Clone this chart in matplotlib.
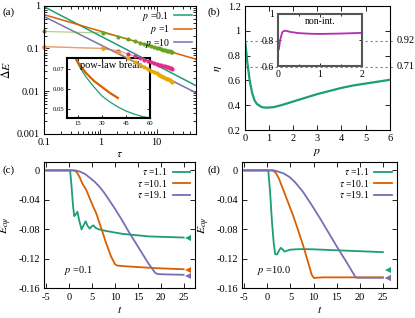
import matplotlib
matplotlib.use('Agg')
import matplotlib.pyplot as plt
from matplotlib.ticker import FuncFormatter, FixedLocator, LogLocator, NullFormatter, MultipleLocator

plt.rcParams['font.family'] = ['Liberation Serif', 'DejaVu Serif']
plt.rcParams['mathtext.fontset'] = 'stix'
plt.rcParams['axes.unicode_minus'] = False
plt.rcParams['font.size'] = 7.5
plt.rcParams['axes.linewidth'] = 0.8

green = '#1b9e77'
orange = '#d95f02'
purple = '#7570b3'
pink = '#e7298a'
lgreen = '#66a61e'
yellow = '#e6ab02'
magenta = '#b52bb5'

# (a) power law fits
tau_fit = [0.1, 50]
dE_p01 = [0.95, 0.0135]
dE_p1 = [0.62, 0.056]
dE_p10 = [0.56, 0.0092]

# (a) data points
tau_pts = [0.1, 1.1, 2.1, 3.1, 4.1, 5.1, 6.1, 7.1, 8.1, 9.1, 10.1,
           11.1, 12.1, 13.1, 14.1, 15.1, 16.1, 17.1, 18.1, 19.1]
dE_green = [0.25, 0.23, 0.19, 0.165, 0.148, 0.136, 0.127, 0.119, 0.113, 0.108, 0.104,
            0.100, 0.097, 0.094, 0.091, 0.089, 0.087, 0.085, 0.083, 0.082]
dE_pink = [0.11, 0.10, 0.088, 0.074, 0.066, 0.060, 0.055, 0.051, 0.048, 0.046, 0.044,
           0.042, 0.0405, 0.039, 0.038, 0.037, 0.036, 0.0352, 0.0345, 0.0338]
dE_yellow = [0.11, 0.10, 0.083, 0.060, 0.049, 0.042, 0.037, 0.033, 0.030, 0.028, 0.026,
             0.024, 0.0228, 0.0215, 0.0205, 0.0196, 0.0188, 0.018, 0.0174, 0.0168]

# (a) inset
tau_in_g = [13, 16, 20, 25, 30, 35, 40, 45, 50, 55, 60]
dE_in_g = [0.076, 0.071, 0.066, 0.061, 0.0565, 0.0535, 0.051, 0.049, 0.0475, 0.0463, 0.0455]
tau_in_o = [13, 16, 20, 25, 30, 35, 40]
dE_in_o = [0.076, 0.072, 0.068, 0.064, 0.061, 0.058, 0.0555]

# (b) efficiency
p_b = [0.0, 0.05, 0.1, 0.2, 0.3, 0.4, 0.5, 0.7, 0.9, 1.2, 1.5, 2.0, 2.5, 3.0,
       3.5, 4.0, 4.5, 5.0, 5.5, 6.0]
eta_b = [0.93, 0.85, 0.75, 0.60, 0.50, 0.44, 0.41, 0.385, 0.38, 0.385, 0.40, 0.43,
         0.46, 0.49, 0.515, 0.54, 0.56, 0.575, 0.59, 0.605]
p_ni = [0.02, 0.05, 0.1, 0.15, 0.2, 0.3, 0.5, 0.8, 1.0, 1.5, 2.0]
eta_ni = [0.73, 0.80, 0.86, 0.872, 0.870, 0.862, 0.853, 0.848, 0.847, 0.850, 0.855]
eta_ref = [0.92, 0.71]

# (c) p = 0.1
tc_g = [-5, 0.2, 0.5, 0.8, 1.1, 1.4, 1.8, 2.2, 2.7, 3.1, 3.6, 4.0, 4.5, 4.9, 5.3,
        5.8, 6.5, 8, 11.6, 17.4, 25]
Ec_g = [0, 0, -0.02, -0.045, -0.062, -0.06, -0.056, -0.068, -0.080, -0.075, -0.069,
        -0.075, -0.079, -0.076, -0.0745, -0.078, -0.080, -0.082, -0.086, -0.0895, -0.091]
tc_o = [-5, 1.0, 1.6, 2.2, 2.9, 3.7, 5.1, 5.9, 7.2, 8.1, 9.1, 10.0, 10.5, 12.3, 15, 18.8, 25]
Ec_o = [0, 0, -0.002, -0.008, -0.018, -0.026, -0.047, -0.058, -0.082, -0.099, -0.116,
        -0.127, -0.129, -0.130, -0.131, -0.1325, -0.134]
tc_p = [-5, 1.4, 2.5, 3.5, 4.5, 5.5, 6.6, 7.5, 8.5, 10.1, 11.5, 13.0, 14.5, 15.9,
        17.3, 18.8, 19.3, 21, 25]
Ec_p = [0, 0, -0.002, -0.005, -0.010, -0.015, -0.022, -0.029, -0.038, -0.053, -0.067,
        -0.083, -0.098, -0.112, -0.126, -0.139, -0.1405, -0.141, -0.1415]
tc_tri = 26
Ec_tri = [-0.091, -0.1356, -0.1438]

# (d) p = 10
td_g = [-5, 0.2, 0.6, 1.0, 1.4, 1.7, 2.1, 2.5, 2.9, 3.3, 3.7, 4.2, 4.8, 6, 7.7, 10, 15.8, 25]
Ed_g = [0, 0, -0.03, -0.07, -0.100, -0.1135, -0.114, -0.109, -0.105, -0.107, -0.110,
        -0.109, -0.1076, -0.107, -0.1067, -0.107, -0.1085, -0.1108]
td_o = [-5, 1.1, 1.8, 2.5, 3.3, 4.4, 5.5, 6.6, 7.7, 8.7, 9.6, 10.1, 10.6, 12, 15.8, 25]
Ed_o = [0, 0, -0.003, -0.011, -0.024, -0.042, -0.060, -0.080, -0.101, -0.122, -0.1415,
        -0.146, -0.1455, -0.145, -0.145, -0.145]
td_p = [-5, 1.5, 2.5, 3.5, 4.8, 6.0, 7.7, 9.5, 11.4, 13.3, 15.2, 17.2, 19.1, 19.5, 22, 25]
Ed_p = [0, 0, -0.002, -0.004, -0.009, -0.016, -0.029, -0.046, -0.065, -0.085, -0.105,
        -0.125, -0.145, -0.1455, -0.1455, -0.1455]
td_tri = 26.1
Ed_tri = [-0.1347, -0.146, -0.1465]

tau_labels = [r'$\tau$ =1.1', r'$\tau$ =10.1', r'$\tau$ =19.1']

fmt = FuncFormatter(lambda v, pos: f'{v:g}')


def style(ax, size=7.5, length=3.5):
    ax.tick_params(which='both', direction='in', top=True, right=True,
                   labelsize=size, pad=3, width=0.6)
    ax.tick_params(which='major', length=length)
    ax.tick_params(which='minor', length=length * 0.55)


fig = plt.figure(figsize=(4.15, 3.18), dpi=100)

# ---------- (a)
ax = fig.add_axes([0.106, 0.579, 0.366, 0.403])
ax.set_zorder(2)
ax.patch.set_visible(False)
lw = 1.1
ax.plot(tau_fit, dE_p01, color=green, lw=lw, label=r'$p$ =0.1')
ax.plot(tau_fit, dE_p1, color=orange, lw=lw, label=r'$p$ =1')
ax.plot(tau_fit, dE_p10, color=purple, lw=lw, label=r'$p$ =10')
for vals, c in [(dE_green, lgreen), (dE_pink, pink), (dE_yellow, yellow)]:
    ax.plot(tau_pts, vals, color=c, lw=0.9, alpha=0.5, clip_on=False)
    ax.plot(tau_pts, vals, 'o', color=c, ms=3, mew=0, clip_on=False)
ax.set_xscale('log')
ax.set_yscale('log')
ax.set_xlim(0.1, 50)
ax.set_ylim(0.001, 1)
ax.xaxis.set_major_locator(FixedLocator([0.1, 1, 10]))
ax.yaxis.set_major_locator(FixedLocator([0.001, 0.01, 0.1, 1]))
ax.xaxis.set_minor_locator(LogLocator(base=10, subs=range(2, 10)))
ax.yaxis.set_minor_locator(LogLocator(base=10, subs=range(2, 10)))
ax.xaxis.set_major_formatter(fmt)
ax.yaxis.set_major_formatter(fmt)
ax.xaxis.set_minor_formatter(NullFormatter())
ax.yaxis.set_minor_formatter(NullFormatter())
style(ax)
ax.set_xlabel(r'$\tau$', fontsize=8.5, labelpad=1)
ax.set_ylabel(r'$\Delta E$', fontsize=8.5, labelpad=3)
ax.legend(loc='upper right', frameon=False, markerfirst=False, fontsize=7,
          handlelength=1.8, handletextpad=0.5, labelspacing=0.05,
          borderpad=0.1, borderaxespad=0.3)

axi = fig.add_axes([0.161, 0.629, 0.2, 0.189])
axi.set_zorder(1)
axi.plot(tau_in_g, dE_in_g, color=green, lw=0.9)
axi.plot(tau_in_o, dE_in_o, color=orange, lw=1.6)
axi.set_xlim(8, 60)
axi.set_ylim(0.0455, 0.0755)
axi.xaxis.set_major_locator(FixedLocator([15, 30, 45, 60]))
axi.yaxis.set_major_locator(FixedLocator([0.05, 0.06, 0.07]))
style(axi, size=4.8, length=2.5)
axi.tick_params(pad=2)
for s in axi.spines.values():
    s.set_linewidth(1.5)
axi.text(0.55, 0.88, 'pow-law break.', transform=axi.transAxes, ha='center',
         va='center', fontsize=7.5)

# ---------- (b)
bx = fig.add_axes([0.590, 0.591, 0.349, 0.390])
bx.plot(p_b, eta_b, color=green, lw=1.6)
bx.set_xlim(0, 6)
bx.set_ylim(0.2, 1.2)
bx.xaxis.set_major_locator(MultipleLocator(1))
bx.yaxis.set_major_locator(MultipleLocator(0.2))
bx.xaxis.set_major_formatter(fmt)
bx.yaxis.set_major_formatter(fmt)
style(bx)
bx.set_xlabel(r'$p$', fontsize=8.5, labelpad=2)
bx.set_ylabel(r'$\eta$', fontsize=8.5, labelpad=3)
for v in eta_ref:
    bx.axhline(v, xmin=0, xmax=1.04, color='#808080', lw=0.8, dashes=(2, 2.5),
               clip_on=False, zorder=1)
    bx.text(1.05, v, f'{v:.2f}', transform=bx.get_yaxis_transform(),
            ha='left', va='center', fontsize=7.5)

bxi = fig.add_axes([0.670, 0.792, 0.202, 0.164])
bxi.plot(p_ni, eta_ni, color=magenta, lw=1.3)
bxi.set_xlim(0, 2)
bxi.set_ylim(0.6, 1.0)
bxi.xaxis.set_major_locator(MultipleLocator(1))
bxi.xaxis.set_minor_locator(MultipleLocator(0.5))
bxi.yaxis.set_major_locator(MultipleLocator(0.2))
bxi.xaxis.set_major_formatter(fmt)
bxi.yaxis.set_major_formatter(fmt)
style(bxi, size=7, length=2.5)
for s in bxi.spines.values():
    s.set_linewidth(1.5)
    s.set_color('#555555')
bxi.text(0.5, 0.85, 'non-int.', transform=bxi.transAxes, ha='center',
         va='center', fontsize=7)


# ---------- (c), (d)
def energy_panel(rect, tg, eg, to, eo, tp, ep, t_tri, e_tri, ptext, px, xmax):
    a = fig.add_axes(rect)
    a.plot(tg, eg, color=green, lw=1.3, label=tau_labels[0])
    a.plot(to, eo, color=orange, lw=1.3, label=tau_labels[1])
    a.plot(tp, ep, color=purple, lw=1.3, label=tau_labels[2])
    for e, c in zip(e_tri, [green, orange, purple]):
        a.plot(t_tri, e, '<', color=c, ms=4, mew=0, clip_on=False)
    a.set_xlim(-5.5, xmax)
    a.set_ylim(-0.16, 0.012)
    a.xaxis.set_major_locator(MultipleLocator(5))
    a.yaxis.set_major_locator(MultipleLocator(0.04))
    a.xaxis.set_major_formatter(fmt)
    a.yaxis.set_major_formatter(fmt)
    style(a)
    a.set_xlabel(r'$t$', fontsize=8.5, labelpad=2)
    a.set_ylabel(r'$E_{c\psi}$', fontsize=8.5, labelpad=3)
    a.text(px, -0.136, ptext, ha='left', va='center', fontsize=7.5)
    a.legend(loc='upper right', frameon=False, markerfirst=False, fontsize=7,
             handlelength=1.8, handletextpad=0.5, labelspacing=0.05,
             borderpad=0.2, borderaxespad=0.3)
    return a


energy_panel([0.106, 0.093, 0.364, 0.399], tc_g, Ec_g, tc_o, Ec_o, tc_p, Ec_p,
             tc_tri, Ec_tri, r'$p$ =0.1', -1.1, 27.5)
energy_panel([0.583, 0.093, 0.373, 0.399], td_g, Ed_g, td_o, Ed_o, td_p, Ed_p,
             td_tri, Ed_tri, r'$p$ =10.0', -2.3, 28)

for lab, x, y in [('(a)', 0.005, 0.962), ('(b)', 0.499, 0.962),
                  ('(c)', 0.005, 0.465), ('(d)', 0.499, 0.465)]:
    fig.text(x, y, lab, ha='left', va='center', fontsize=8)

fig.savefig('out.png', dpi=100)
